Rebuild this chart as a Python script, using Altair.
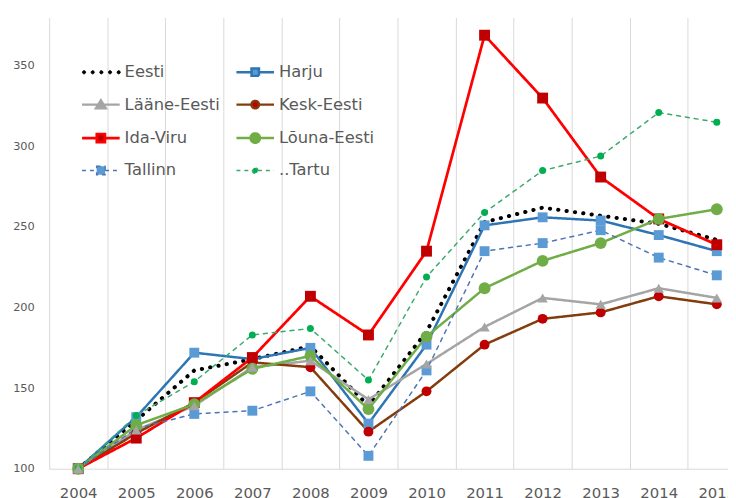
import altair as alt
import pandas as pd

years = [str(y) for y in range(2004, 2016)]
series_names = ["Eesti", "Harju", "Lääne-Eesti", "Kesk-Eesti", "Ida-Viru", "Lõuna-Eesti", "Tallinn", "..Tartu"]

eesti = [100, 130, 161, 168, 176, 139, 185, 253, 262, 257, 252, 242]
harju = [100, 132, 172, 168, 175, 128, 177, 251, 256, 254, 245, 235]
laane_eesti = [100, 124, 139, 163, 167, 143, 165, 188, 206, 202, 212, 206]
kesk_eesti = [100, 122, 141, 166, 163, 123, 148, 177, 193, 197, 207, 202]
ida_viru = [100, 119, 141, 169, 207, 183, 235, 369, 330, 281, 255, 239]
louna_eesti = [100, 127, 140, 162, 170, 137, 182, 212, 229, 240, 255, 261]
tallinn = [100, 125, 134, 136, 148, 108, 161, 235, 240, 248, 231, 220]
tartu = [100, 133, 154, 183, 187, 155, 219, 259, 285, 294, 321, 315]

y_ticks = [100, 150, 200, 250, 300, 350]

all_values = [eesti, harju, laane_eesti, kesk_eesti, ida_viru, louna_eesti, tallinn, tartu]
rows = []
for name, vals in zip(series_names, all_values):
    for yr, v in zip(years, vals):
        rows.append({"year": yr, "series": name, "value": v})
df = pd.DataFrame(rows)

# styles
line_colors = ["#000000", "#2E75B6", "#A5A5A5", "#843C0C", "#FF0000", "#70AD47", "#4F74B5", "#3BAA6E"]
marker_colors = ["#000000", "#5B9BD5", "#A5A5A5", "#C00000", "#C00000", "#70AD47", "#5B9BD5", "#00B050"]
line_widths = [4, 2.5, 2.5, 2.5, 2.75, 2.5, 1.5, 1.5]
legend_widths = [1, 2.5, 2.5, 2.5, 2.75, 2.5, 1.5, 1.5]
line_dashes = [[0.3, 8.2], [1, 0], [1, 0], [1, 0], [1, 0], [1, 0], [4, 5], [4, 5]]
legend_dashes = [[1, 0], [1, 0], [1, 0], [1, 0], [1, 0], [1, 0], [4, 4], [4, 4]]
marker_sizes = [0, 100, 110, 100, 121, 144, 100, 50]
square_series = ["Harju", "Ida-Viru", "Tallinn"]
circle_series = ["Kesk-Eesti", "Lõuna-Eesti", "..Tartu"]
triangle_series = ["Lääne-Eesti"]

CX = 2.8
X0, X1 = -1.0, 6.6


def seg(h):
    return f"M{X0},0H{CX - h:.3f}M{CX + h:.3f},0H{X1}"


def square(h):
    return seg(h) + f"M{CX - h:.3f},{-h:.3f}H{CX + h:.3f}V{h:.3f}H{CX - h:.3f}Z"


def circle(r, cx=CX):
    return f"M{cx - r:.4f},0A{r},{r} 0 1,0 {cx + r:.4f},0A{r},{r} 0 1,0 {cx - r:.4f},0Z"


def triangle(h):
    return seg(h * 0.7) + f"M{CX:.3f},{-h:.3f}L{CX + h * 1.15:.3f},{h * 0.85:.3f}L{CX - h * 1.15:.3f},{h * 0.85:.3f}Z"


dots = "".join(circle(0.32, -0.6 + k * 1.75) for k in range(5))
legend_paths = [
    dots,
    square(0.75),
    triangle(0.85),
    seg(0.75) + circle(0.75),
    square(0.82),
    seg(0.95) + circle(0.95),
    square(0.85),
    seg(0.55) + circle(0.55),
]

FONT = "DejaVu Sans"
GRID = "#d9d9d9"
TXT = "#595959"

x_enc = alt.X(
    "year:N",
    sort=years,
    scale=alt.Scale(type="band", domain=years, range=[0, 704], paddingInner=0, paddingOuter=0),
    axis=alt.Axis(
        title=None, labelAngle=0, tickBand="extent", grid=True, gridColor=GRID, gridWidth=1,
        domainColor=GRID, domainWidth=1, ticks=False, labelFont=FONT, labelFontSize=15,
        labelColor=TXT, labelPadding=17,
    ),
)
y_enc = alt.Y(
    "value:Q",
    scale=alt.Scale(domain=[100, 380], nice=False, zero=False),
    axis=alt.Axis(
        title=None, values=y_ticks, grid=False, domain=False, ticks=False, labelFont=FONT,
        labelFontSize=11.5, labelColor=TXT, labelPadding=15,
    ),
)


def stroke_scale():
    return alt.Scale(domain=series_names, range=line_colors)


def fill_scale():
    return alt.Scale(domain=series_names, range=marker_colors)


base = alt.Chart(df)

lines = base.mark_line(strokeCap="round", strokeJoin="round").encode(
    x=x_enc,
    y=y_enc,
    stroke=alt.Stroke("series:N", scale=stroke_scale(), legend=None),
    strokeWidth=alt.StrokeWidth("series:N", scale=alt.Scale(type="ordinal", domain=series_names, range=line_widths), legend=None),
    strokeDash=alt.StrokeDash("series:N", scale=alt.Scale(domain=series_names, range=line_dashes), legend=None),
)


def markers(names, shape):
    return base.transform_filter(alt.FieldOneOfPredicate(field="series", oneOf=names)).mark_point(
        filled=True, opacity=1, shape=shape
    ).encode(
        x=x_enc,
        y=y_enc,
        fill=alt.Fill("series:N", scale=fill_scale(), legend=None),
        size=alt.Size("series:N", scale=alt.Scale(type="ordinal", domain=series_names, range=marker_sizes), legend=None),
    )


squares = markers(square_series, "square")
circles = markers(circle_series, "circle")
triangles = markers(triangle_series, "triangle-up")

leg = alt.Legend(
    title=None, orient="none", direction="horizontal", legendX=30, legendY=47, columns=2,
    columnPadding=11, rowPadding=14.8, symbolSize=100, labelOffset=29.75, labelFont=FONT,
    labelFontSize=16.5, labelColor=TXT, padding=0, labelLimit=300,
)

legend_layer = base.transform_filter("false").mark_point(filled=True, opacity=1).encode(
    x=x_enc,
    y=y_enc,
    fill=alt.Fill("series:N", scale=fill_scale(), legend=leg),
    stroke=alt.Stroke("series:N", scale=stroke_scale(), legend=leg),
    shape=alt.Shape("series:N", scale=alt.Scale(domain=series_names, range=legend_paths), legend=leg),
    strokeDash=alt.StrokeDash("series:N", scale=alt.Scale(domain=series_names, range=legend_dashes), legend=leg),
    strokeWidth=alt.StrokeWidth("series:N", scale=alt.Scale(type="ordinal", domain=series_names, range=legend_widths), legend=leg),
)

chart = (
    alt.layer(lines, squares, circles, triangles, legend_layer)
    .resolve_scale(
        stroke="independent", fill="independent", shape="independent",
        strokeDash="independent", strokeWidth="independent", size="independent",
    )
    .properties(
        width=686,
        height=456,
        autosize=alt.AutoSizeParams(type="none"),
        padding={"left": 41.6, "top": 7, "right": 0, "bottom": 27},
    )
    .configure_view(strokeWidth=0)
)

chart.save("out.html", embed_options={"renderer": "svg", "actions": False})
